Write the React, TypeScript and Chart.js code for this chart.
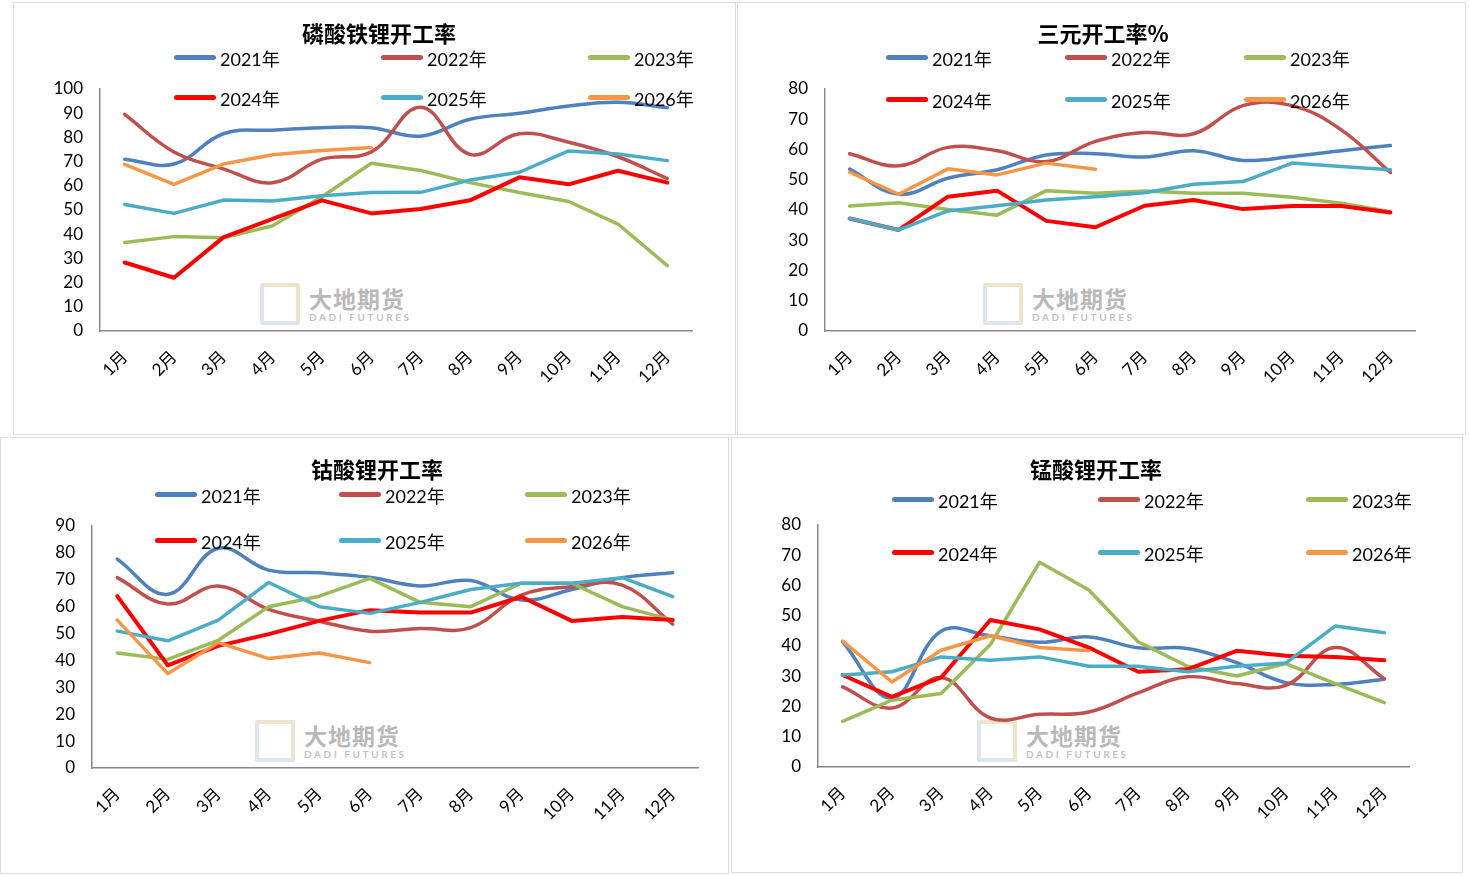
import React, { useEffect, useRef } from "react";
import { Chart, registerables } from "chart.js";

Chart.register(...registerables);

// categories and series names
const months = ["1月", "2月", "3月", "4月", "5月", "6月", "7月", "8月", "9月", "10月", "11月", "12月"];
const years = ["2021年", "2022年", "2023年", "2024年", "2025年", "2026年"];

// 磷酸铁锂开工率
const lfp2021 = [71, 69, 81.5, 83, 84, 84, 80.5, 87.5, 90, 93, 94.5, 92.3];
const lfp2022 = [89.5, 74, 67, 61.3, 71, 74, 92.5, 73, 81.5, 78, 72, 63];
const lfp2023 = [36.6, 39, 38.5, 43.5, 55.5, 69.3, 66.3, 61.3, 57.2, 53.5, 44.2, 27];
const lfp2024 = [28.3, 22, 38.7, 46.3, 54, 48.6, 50.4, 54, 63.5, 60.6, 66.2, 61.3];
const lfp2025 = [52.3, 48.6, 54.1, 53.7, 55.9, 57.2, 57.3, 62.4, 65.6, 74.4, 73.1, 70.4];
const lfp2026 = [68.9, 60.6, 69, 72.8, 74.6, 75.8];

// 三元开工率%
const ncm2021 = [53.5, 45.2, 50.5, 53.3, 58.2, 58.6, 57.5, 59.6, 56.4, 57.7, 59.6, 61.3];
const ncm2022 = [58.6, 54.6, 60.7, 59.6, 56, 62.7, 65.6, 65.2, 74.5, 74.5, 66.5, 52.4];
const ncm2023 = [41.3, 42.4, 40.2, 38.3, 46.4, 45.5, 46.3, 45.5, 45.5, 44.2, 42.2, 39.4];
const ncm2024 = [37.2, 33.4, 44.4, 46.4, 36.4, 34.3, 41.4, 43.3, 40.3, 41.3, 41.3, 39.2];
const ncm2025 = [37.2, 33.4, 39.7, 41.4, 43.3, 44.4, 45.7, 48.5, 49.4, 55.5, 54.4, 53.3];
const ncm2026 = [52.5, 45.2, 53.6, 51.6, 55.5, 53.5];

// 钴酸锂开工率
const lco2021 = [77.7, 64.6, 81.7, 73.6, 72.6, 70.9, 67.7, 69.7, 62.5, 66.4, 70.8, 72.6];
const lco2022 = [70.8, 61, 67.7, 59, 54.6, 50.9, 51.9, 52.2, 64.3, 67.4, 68, 53.5];
const lco2023 = [42.8, 40.4, 47.5, 60, 63.9, 70.5, 61.6, 60, 68.7, 68.7, 60, 55];
const lco2024 = [63.9, 38.2, 45.4, 49.8, 54.7, 58.7, 57.8, 57.8, 63.7, 54.7, 56.2, 55];
const lco2025 = [50.9, 47.3, 55, 69, 60, 57.5, 61.6, 66.4, 68.7, 68.7, 70.8, 63.7];
const lco2026 = [55, 35.1, 46.6, 40.7, 42.8, 39.2];

// 锰酸锂开工率
const lmo2021 = [41.4, 22.8, 44.9, 43.3, 41.2, 43, 39.4, 39.2, 34.5, 27.9, 27.3, 29];
const lmo2022 = [26.5, 19.5, 29.6, 16.2, 17.4, 18.2, 24.5, 29.8, 27.6, 27, 39.5, 29.2];
const lmo2023 = [15.1, 22.1, 24.3, 40.5, 67.7, 58.5, 41.4, 33.3, 30.1, 34.2, 27.6, 21.3];
const lmo2024 = [30.4, 23.2, 29.6, 48.6, 45.5, 39.5, 31.5, 32.3, 38.4, 36.8, 36.4, 35.3];
const lmo2025 = [30.4, 31.5, 36.4, 35.3, 36.4, 33.3, 33.3, 31.5, 33.3, 34.4, 46.6, 44.4];
const lmo2026 = [41.6, 28.1, 38.6, 43.4, 39.5, 38.4];

const colors = ["#4F81BD", "#C0504D", "#9BBB59", "#FF0000", "#4BACC6", "#F79646"];
const tensions = [0.4, 0.4, 0, 0, 0, 0];
const FONT = '"Lato", "Noto Sans CJK SC", sans-serif';

interface Rect {
  l: number;
  t: number;
  r: number;
  b: number;
}

interface PanelDef {
  title: string;
  series: number[][];
  yMax: number;
  box: Rect;
  plot: Rect;
  titleX: number;
  titleY: number;
  legendX: number[];
  legendY: number[];
  mark: number[];
}

const panels: PanelDef[] = [
  {
    title: "磷酸铁锂开工率",
    series: [lfp2021, lfp2022, lfp2023, lfp2024, lfp2025, lfp2026],
    yMax: 100,
    box: { l: 13, t: 2, r: 736, b: 435 },
    plot: { l: 100, t: 89, r: 692, b: 331 },
    titleX: 379,
    titleY: 31,
    legendX: [174, 381, 588],
    legendY: [57, 97],
    mark: [260, 283],
  },
  {
    title: "三元开工率%",
    series: [ncm2021, ncm2022, ncm2023, ncm2024, ncm2025, ncm2026],
    yMax: 80,
    box: { l: 737, t: 2, r: 1466, b: 435 },
    plot: { l: 825, t: 89, r: 1415, b: 331 },
    titleX: 1103,
    titleY: 31,
    legendX: [886, 1065, 1244],
    legendY: [57, 99],
    mark: [983, 283],
  },
  {
    title: "钴酸锂开工率",
    series: [lco2021, lco2022, lco2023, lco2024, lco2025, lco2026],
    yMax: 90,
    box: { l: 0, t: 437, r: 729, b: 874 },
    plot: { l: 92, t: 526, r: 698, b: 768 },
    titleX: 377,
    titleY: 467,
    legendX: [155, 339, 525],
    legendY: [494, 540],
    mark: [255, 720],
  },
  {
    title: "锰酸锂开工率",
    series: [lmo2021, lmo2022, lmo2023, lmo2024, lmo2025, lmo2026],
    yMax: 80,
    box: { l: 731, t: 437, r: 1463, b: 873 },
    plot: { l: 818, t: 525, r: 1409, b: 767 },
    titleX: 1096,
    titleY: 467,
    legendX: [892, 1098, 1306],
    legendY: [499, 552],
    mark: [977, 720],
  },
];

function LineChart({ p }: { p: PanelDef }) {
  const canvasRef = useRef<HTMLCanvasElement>(null);
  const chartRef = useRef<Chart | null>(null);
  const w = p.box.r - p.box.l;
  const h = p.box.b - p.box.t;

  useEffect(() => {
    const ctx = canvasRef.current?.getContext("2d");
    if (!ctx) return;

    chartRef.current = new Chart(ctx, {
      type: "line",
      data: {
        labels: months,
        datasets: p.series.map((s, i) => ({
          label: years[i],
          data: s,
          borderColor: colors[i],
          backgroundColor: colors[i],
          borderWidth: i === 3 ? 4 : 3.5,
          tension: tensions[i],
          pointRadius: 0,
          fill: false,
          borderCapStyle: "round" as const,
          borderJoinStyle: "round" as const,
          order: 6 - i,
        })),
      },
      options: {
        animation: false,
        responsive: false,
        maintainAspectRatio: false,
        layout: {
          padding: { top: p.plot.t - p.box.t, right: p.box.r - p.plot.r, left: 0, bottom: 0 },
        },
        plugins: {
          legend: { display: false },
          title: { display: false },
          tooltip: { enabled: false },
        },
        scales: {
          x: {
            offset: true,
            grid: { display: false, drawTicks: false, offset: true },
            border: { display: true, color: "#898989", width: 1.5 },
            ticks: {
              color: "#000",
              font: { family: FONT, size: 17 },
              minRotation: 45,
              maxRotation: 45,
              autoSkip: false,
              padding: 16,
            },
            afterFit: (s: any) => {
              s.height = p.box.b - p.plot.b;
            },
          },
          y: {
            min: 0,
            max: p.yMax,
            grid: { display: false, drawTicks: false },
            border: { display: true, color: "#898989", width: 1.5 },
            ticks: {
              stepSize: 10,
              color: "#000",
              font: { family: FONT, size: 17 },
              padding: 17,
            },
            afterFit: (s: any) => {
              s.width = p.plot.l - p.box.l;
            },
          },
        },
      },
    });

    return () => {
      if (chartRef.current) {
        chartRef.current.destroy();
      }
    };
  }, [p]);

  return (
    <canvas
      ref={canvasRef}
      width={w}
      height={h}
      style={{ position: "absolute", left: p.box.l, top: p.box.t, width: w, height: h }}
    ></canvas>
  );
}

function Watermark({ x, y }: { x: number; y: number }) {
  return (
    <div
      style={{
        position: "absolute",
        left: x,
        top: y,
        display: "flex",
        alignItems: "center",
        opacity: 0.45,
        pointerEvents: "none",
      }}
    >
      <div
        style={{
          width: 32,
          height: 34,
          borderTop: "4px solid #d9c48e",
          borderLeft: "4px solid #b9c6dc",
          borderBottom: "4px solid #b9c6dc",
          borderRight: "4px solid #d9c48e",
          borderRadius: 3,
        }}
      ></div>
      <div style={{ marginLeft: 9 }}>
        <div style={{ font: 'bold 23px "Noto Sans CJK SC"', color: "#666", lineHeight: "26px", letterSpacing: 1 }}>
          大地期货
        </div>
        <div style={{ font: "bold 10px Lato", color: "#777", letterSpacing: 2.6, lineHeight: "12px" }}>
          DADI FUTURES
        </div>
      </div>
    </div>
  );
}

function Panel({ p }: { p: PanelDef }) {
  return (
    <>
      <div
        style={{
          position: "absolute",
          left: p.box.l,
          top: p.box.t,
          width: p.box.r - p.box.l,
          height: p.box.b - p.box.t,
          boxSizing: "border-box",
          border: "1px solid #dcdcdc",
          background: "#fff",
        }}
      ></div>
      <Watermark x={p.mark[0]} y={p.mark[1]} />
      <LineChart p={p} />
      <div
        style={{
          position: "absolute",
          left: p.titleX - 150,
          width: 300,
          top: p.titleY - 15,
          lineHeight: "30px",
          textAlign: "center",
          font: 'bold 22px "Noto Sans CJK SC", sans-serif',
          color: "#000",
        }}
      >
        {p.title}
      </div>
      {years.map((y, i) => {
        const lx = p.legendX[i % 3];
        const ly = p.legendY[i < 3 ? 0 : 1];
        return (
          <React.Fragment key={y}>
            <div
              style={{
                position: "absolute",
                left: lx,
                top: ly - 2,
                width: 42,
                height: 4.5,
                borderRadius: 2.5,
                background: colors[i],
              }}
            ></div>
            <div
              style={{
                position: "absolute",
                left: lx + 46,
                top: ly - 12,
                lineHeight: "24px",
                font: `18px ${FONT}`,
                color: "#000",
                whiteSpace: "nowrap",
              }}
            >
              {y}
            </div>
          </React.Fragment>
        );
      })}
    </>
  );
}

export default function App() {
  return (
    <div style={{ position: "absolute", left: 0, top: 0, width: 1469, height: 876, background: "#fff", overflow: "hidden" }}>
      {panels.map((p) => (
        <Panel key={p.title} p={p} />
      ))}
    </div>
  );
}
